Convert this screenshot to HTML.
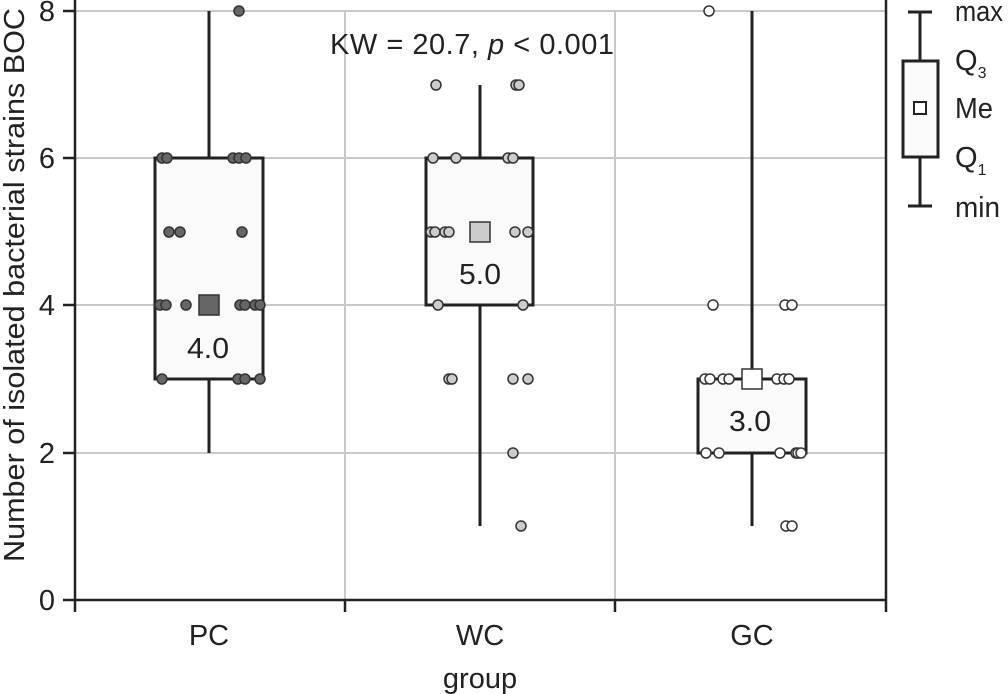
<!DOCTYPE html>
<html><head><meta charset="utf-8"><style>
html,body{margin:0;padding:0;background:#fff;}
svg{display:block;font-family:"Liberation Sans Narrow","Liberation Sans",sans-serif;}
</style></head><body>
<svg width="1008" height="694" viewBox="0 0 1008 694" xmlns="http://www.w3.org/2000/svg">
<g stroke="#c8c8c8" stroke-width="2">
<line x1="75" y1="11" x2="886" y2="11"/>
<line x1="75" y1="158" x2="886" y2="158"/>
<line x1="75" y1="305" x2="886" y2="305"/>
<line x1="75" y1="453" x2="886" y2="453"/>
<line x1="345" y1="11" x2="345" y2="600"/>
<line x1="615" y1="11" x2="615" y2="600"/>
</g>
<g stroke="#222" stroke-width="2.5" fill="none">
<line x1="75" y1="0" x2="75" y2="612"/>
<line x1="886" y1="0" x2="886" y2="612"/>
<line x1="75" y1="600" x2="886" y2="600"/>
<line x1="345" y1="600" x2="345" y2="612"/>
<line x1="615" y1="600" x2="615" y2="612"/>
<line x1="63" y1="11" x2="75" y2="11"/>
<line x1="63" y1="158" x2="75" y2="158"/>
<line x1="63" y1="305" x2="75" y2="305"/>
<line x1="63" y1="453" x2="75" y2="453"/>
<line x1="63" y1="600" x2="75" y2="600"/>
</g>
<g stroke="#222" stroke-width="3" fill="#fafafa">
<line x1="209" y1="11" x2="209" y2="453"/>
<rect x="155" y="158" width="108" height="221"/>
<line x1="480" y1="85" x2="480" y2="526"/>
<rect x="426" y="158" width="107" height="147"/>
<line x1="752" y1="11" x2="752" y2="526"/>
<rect x="698" y="379" width="108" height="74"/>
</g>
<g stroke="#333" stroke-width="1.5" fill="#666">
<circle cx="162" cy="158" r="5"/><circle cx="167" cy="158" r="5"/><circle cx="233" cy="158" r="5"/><circle cx="239" cy="158" r="5"/><circle cx="246" cy="158" r="5"/>
<circle cx="169" cy="232" r="5"/><circle cx="180" cy="232" r="5"/><circle cx="242" cy="232" r="5"/>
<circle cx="160" cy="305" r="5"/><circle cx="166" cy="305" r="5"/><circle cx="186" cy="305" r="5"/><circle cx="240" cy="305" r="5"/><circle cx="245" cy="305" r="5"/><circle cx="255" cy="305" r="5"/><circle cx="260" cy="305" r="5"/>
<circle cx="239" cy="11" r="5"/>
<circle cx="162" cy="379" r="5"/><circle cx="238" cy="379" r="5"/><circle cx="245" cy="379" r="5"/><circle cx="260" cy="379" r="5"/>
<rect x="199" y="295" width="20" height="20"/>
</g>
<g stroke="#333" stroke-width="1.5" fill="#ccc">
<circle cx="436" cy="85" r="5"/><circle cx="516" cy="85" r="5"/><circle cx="519" cy="85" r="5"/>
<circle cx="433" cy="158" r="5"/><circle cx="456" cy="158" r="5"/><circle cx="508" cy="158" r="5"/><circle cx="513" cy="158" r="5"/>
<circle cx="431" cy="232" r="5"/><circle cx="435" cy="232" r="5"/><circle cx="445" cy="232" r="5"/><circle cx="449" cy="232" r="5"/><circle cx="515" cy="232" r="5"/><circle cx="528" cy="232" r="5"/>
<circle cx="438" cy="305" r="5"/><circle cx="523" cy="305" r="5"/>
<circle cx="449" cy="379" r="5"/><circle cx="452" cy="379" r="5"/><circle cx="513" cy="379" r="5"/><circle cx="528" cy="379" r="5"/>
<circle cx="513" cy="453" r="5"/><circle cx="521" cy="526" r="5"/>
<rect x="470" y="222" width="20" height="20"/>
</g>
<g stroke="#333" stroke-width="1.5" fill="#fff">
<circle cx="709" cy="11" r="5"/>
<circle cx="713" cy="305" r="5"/><circle cx="785" cy="305" r="5"/><circle cx="792" cy="305" r="5"/>
<circle cx="705" cy="379" r="5"/><circle cx="710" cy="379" r="5"/><circle cx="723" cy="379" r="5"/><circle cx="729" cy="379" r="5"/><circle cx="777" cy="379" r="5"/><circle cx="784" cy="379" r="5"/><circle cx="789" cy="379" r="5"/>
<circle cx="706" cy="453" r="5"/><circle cx="719" cy="453" r="5"/><circle cx="780" cy="453" r="5"/><circle cx="796" cy="453" r="5"/><circle cx="798" cy="453" r="5"/><circle cx="801" cy="453" r="5"/>
<circle cx="786" cy="526" r="5"/><circle cx="792" cy="526" r="5"/>
<rect x="742" y="369" width="20" height="20"/>
</g>
<g font-size="29" fill="#222" text-anchor="middle">
<text x="208" y="358" textLength="42" lengthAdjust="spacingAndGlyphs">4.0</text>
<text x="480" y="284" textLength="42" lengthAdjust="spacingAndGlyphs">5.0</text>
<text x="750" y="431" textLength="42" lengthAdjust="spacingAndGlyphs">3.0</text>
<text x="472" y="54" textLength="284" lengthAdjust="spacing">KW = 20.7, <tspan font-style="italic">p</tspan> &lt; 0.001</text>
<text x="209" y="645">PC</text>
<text x="480" y="645">WC</text>
<text x="752" y="645">GC</text>
<text x="480" y="688">group</text>
</g>
<g font-size="29" fill="#222" text-anchor="end">
<text x="55" y="21">8</text><text x="55" y="168">6</text><text x="55" y="315">4</text><text x="55" y="463">2</text><text x="55" y="610">0</text>
</g>
<text transform="translate(24,285) rotate(-90)" font-size="29" fill="#222" text-anchor="middle" textLength="554" lengthAdjust="spacingAndGlyphs">Number of isolated bacterial strains BOC</text>
<g stroke="#222" stroke-width="3" fill="#fafafa">
<line x1="920" y1="12" x2="920" y2="206"/>
<line x1="908" y1="12" x2="932" y2="12"/>
<line x1="908" y1="206" x2="932" y2="206"/>
<rect x="903" y="61" width="35" height="96"/>
<rect x="914" y="102" width="12" height="12" stroke-width="2" fill="#fff"/>
</g>
<g font-size="29" fill="#222">
<text x="955" y="21" textLength="48" lengthAdjust="spacingAndGlyphs">max</text>
<text x="955" y="70">Q<tspan font-size="16" dy="8">3</tspan></text>
<text x="955" y="118" textLength="38" lengthAdjust="spacingAndGlyphs">Me</text>
<text x="955" y="167">Q<tspan font-size="16" dy="8">1</tspan></text>
<text x="955" y="217" textLength="45" lengthAdjust="spacingAndGlyphs">min</text>
</g>
</svg>
</body></html>
